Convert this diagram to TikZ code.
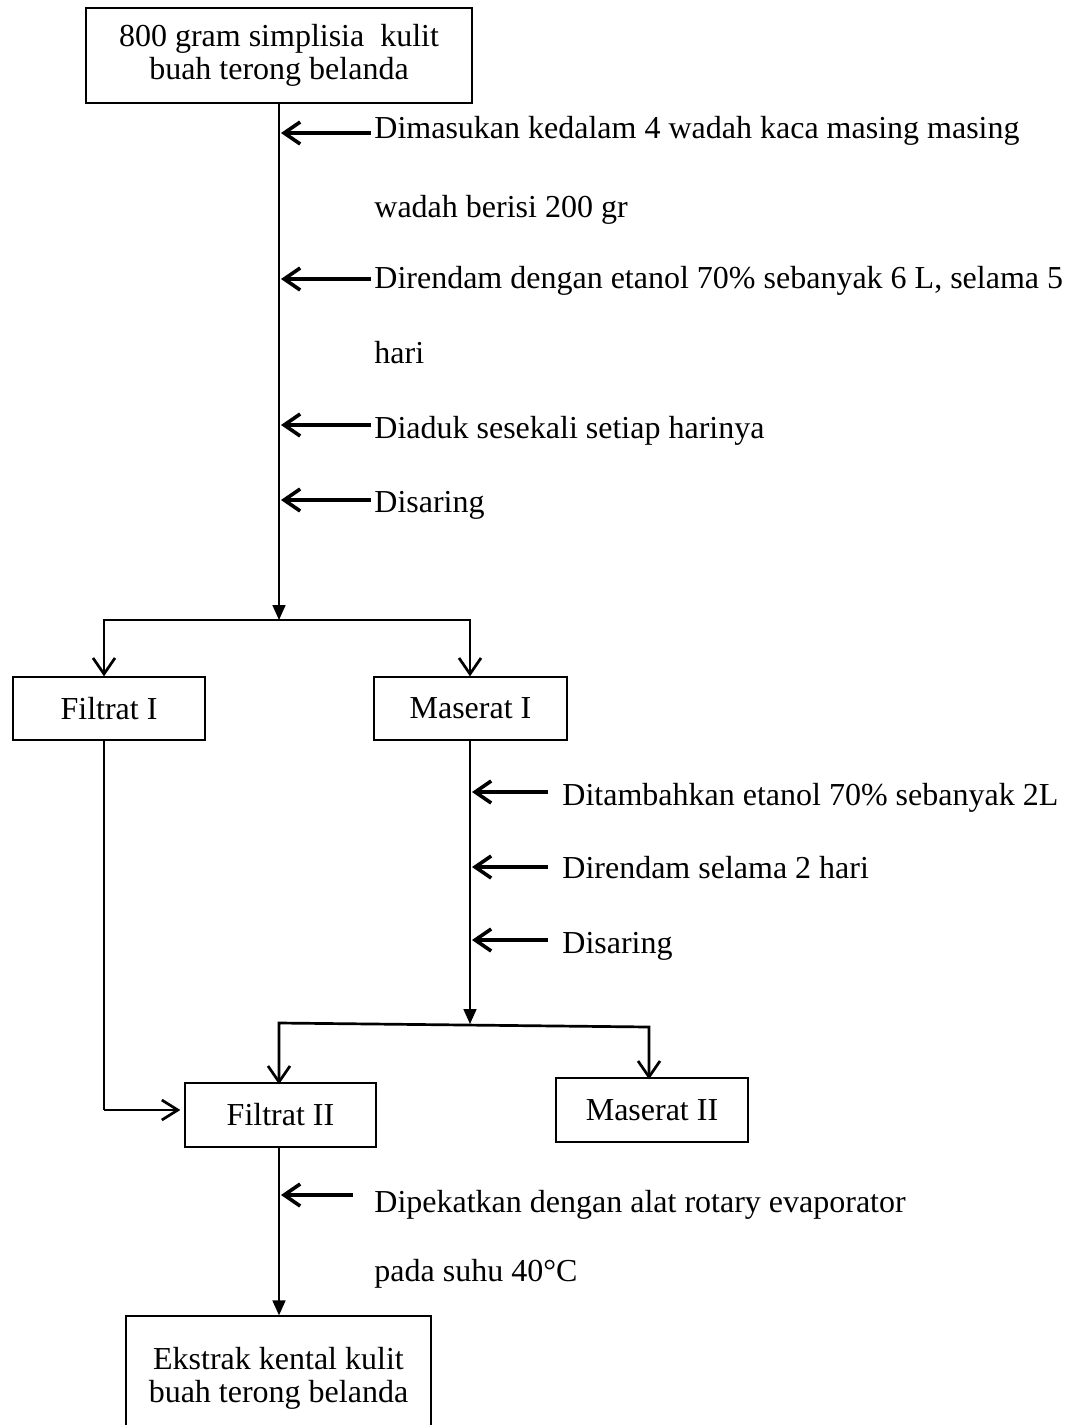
\documentclass[tikz,border=0pt]{standalone}
\usepackage{fontspec}
\setmainfont{Liberation Serif}
\usetikzlibrary{arrows.meta}
\begin{document}
\begin{tikzpicture}[x=0.5pt,y=-0.5pt,
  every node/.style={font=\fontsize{16}{16.5}\selectfont},
  box/.style={draw,line width=0.65pt,inner sep=0pt,align=center},
  lab/.style={anchor=base west,inner sep=0pt},
  main/.style={line width=0.85pt,-{Triangle[length=7.5pt,width=6.5pt]}},
  side/.style={line width=1.8pt,-{Straight Barb[length=8pt,width=11pt,line width=1.8pt]}},
  branch/.style={line width=1.35pt,line join=miter,{Straight Barb[length=8pt,width=11pt,line width=1.35pt]}-{Straight Barb[length=8pt,width=11pt,line width=1.35pt]}},
  feed/.style={line width=1.35pt,-{Straight Barb[length=8pt,width=10pt,line width=1.35pt]}}]
\clip (0,0) rectangle (1066,1425);
\fill[white] (0,0) rectangle (1066,1425);

% boxes
\node[box,minimum width=193pt,minimum height=47.5pt] (top) at (279,55.5) {800 gram simplisia\ \ kulit\\buah terong belanda};
\node[box,minimum width=96pt,minimum height=31.5pt] (f1) at (109,708.5) {Filtrat I};
\node[box,minimum width=96.5pt,minimum height=31.5pt] (m1) at (470.5,708.5) {Maserat I};
\node[box,minimum width=95.5pt,minimum height=32pt] (f2) at (280.5,1115) {Filtrat II};
\node[box,minimum width=96pt,minimum height=32pt] (m2) at (652,1110) {Maserat II};
\node[box,minimum width=152.5pt,minimum height=62pt] (bot) at (278.5,1378) {Ekstrak kental kulit\\buah terong belanda};

% labels group 1 (baselines)
\node[lab] (a1) at (374,138) {Dimasukan kedalam 4 wadah kaca masing masing};
\node[lab] (a1b) at (374,217) {wadah berisi 200 gr};
\node[lab] (a2) at (374,288) {Direndam dengan etanol 70\% sebanyak 6 L, selama 5};
\node[lab] (a2b) at (374,363) {hari};
\node[lab] (a3) at (374,438) {Diaduk sesekali setiap harinya};
\node[lab] (a4) at (374,512) {Disaring};
% labels group 2
\node[lab] (b1) at (562,805) {Ditambahkan etanol 70\% sebanyak 2L};
\node[lab] (b2) at (562,878) {Direndam selama 2 hari};
\node[lab] (b3) at (562,953) {Disaring};
% labels group 3
\node[lab] (c1) at (374,1212) {Dipekatkan dengan alat rotary evaporator};
\node[lab] (c1b) at (374,1281) {pada suhu 40\textdegree C};

% coordinates
\coordinate (v1) at (279,620);
\coordinate (jl) at (104,620);
\coordinate (jr) at (470,620);
\coordinate (v2) at (470,1024);
\coordinate (kl) at (279,1023);
\coordinate (kr) at (649,1027);
\coordinate (fl) at (104,1110);
% arrow rows
\coordinate (ya1) at (0,133);
\coordinate (ya2) at (0,279);
\coordinate (ya3) at (0,425);
\coordinate (ya4) at (0,500);
\coordinate (yb1) at (0,792);
\coordinate (yb2) at (0,867);
\coordinate (yb3) at (0,940);
\coordinate (yc1) at (0,1195);

% main flow
\draw[main] (top.south -| v1) -- (v1);
\draw[branch] (jl |- f1.north) -- (jl) -- (jr) -- (jr |- m1.north);
\draw[main] (m1.south -| v2) -- (v2);
\draw[branch] ([yshift=-1pt]kl |- f2.north) -- (kl) -- (kr) -- ([yshift=-1pt]kr |- m2.north);
\draw[line width=1.35pt] (f1.south -| fl) -- (fl);
\draw[feed] (fl) -- ([xshift=-2pt]f2.west |- fl);
\draw[main] (f2.south -| v1) -- (bot.north -| v1);

% side arrows
\foreach \n in {a1,a2,a3,a4}{
  \draw[side] ([xshift=-1.5pt]\n.west |- y\n) -- ([xshift=1pt]v1 |- y\n);
}
\foreach \n in {b1,b2,b3}{
  \draw[side] ([xshift=-7pt]\n.west |- y\n) -- ([xshift=1pt]v2 |- y\n);
}
\draw[side] ([xshift=-10.5pt]c1.west |- yc1) -- ([xshift=1pt]v1 |- yc1);
\end{tikzpicture}
\end{document}
